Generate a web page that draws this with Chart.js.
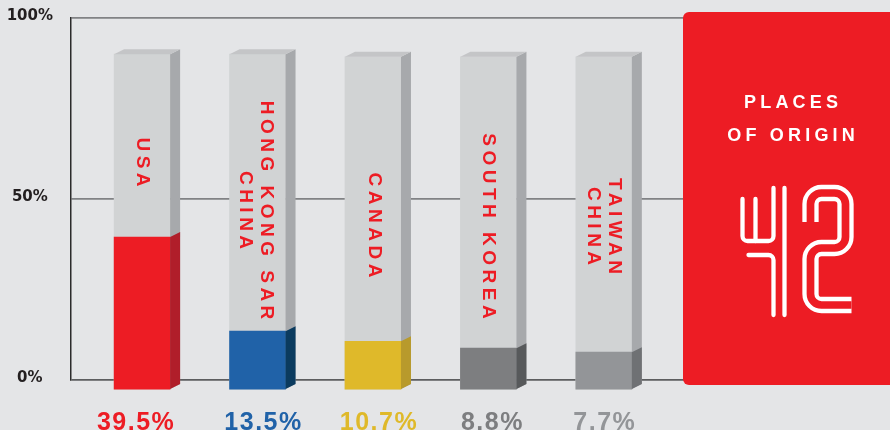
<!DOCTYPE html>
<html>
<head>
<meta charset="utf-8">
<script src="https://cdn.jsdelivr.net/npm/chart.js@4.4.1/dist/chart.umd.min.js"></script>
<style>
  html, body { margin: 0; padding: 0; background: #e4e5e7; }
  #wrap { width: 890px; height: 430px; }
</style>
</head>
<body>
<div id="wrap"><canvas id="originChart" width="890" height="430"></canvas></div>
<script>
// data
var categories = [['USA'], ['HONG KONG SAR', 'CHINA'], ['CANADA'], ['SOUTH KOREA'], ['TAIWAN', 'CHINA']];
var shares = [39.5, 13.5, 10.7, 8.8, 7.7];
var trackTop = [90, 90, 89.3, 89.3, 89.3];
var barBase = -2.5;
var yTicks = [0, 50, 100];
var panelTitle = ['PLACES', 'OF ORIGIN'];
var placesCount = 42;

// colours
var frontColors = ['#ed1c24', '#2062a8', '#dfb92a', '#7d7e80', '#939598'];
var sideColors = ['#b01e2a', '#0b3b5f', '#b89a2c', '#57595b', '#6f7174'];
var red = '#ed1c24';
var depthX = 10, depthY = 5;

var background = {
    id: 'background',
    beforeDraw: function (chart) {
        var ctx = chart.ctx;
        ctx.save();
        ctx.fillStyle = '#e4e5e7';
        ctx.fillRect(0, 0, chart.width, chart.height);
        ctx.restore();
    }
};

// side + top faces so the bars look like columns
var cube = {
    id: 'cube',
    afterDatasetDraw: function (chart, args) {
        var ds = chart.data.datasets[args.index];
        var ctx = chart.ctx;
        ctx.save();
        args.meta.data.forEach(function (bar, i) {
            var p = bar.getProps(['x', 'y', 'base', 'width'], true);
            var l = p.x - p.width / 2, r = p.x + p.width / 2;
            ctx.fillStyle = Array.isArray(ds.sideColor) ? ds.sideColor[i] : ds.sideColor;
            ctx.beginPath();
            ctx.moveTo(r, p.y);
            ctx.lineTo(r + depthX, p.y - depthY);
            ctx.lineTo(r + depthX, p.base - depthY);
            ctx.lineTo(r, p.base);
            ctx.closePath();
            ctx.fill();
            if (ds.topColor) {
                ctx.fillStyle = ds.topColor;
                ctx.beginPath();
                ctx.moveTo(l, p.y);
                ctx.lineTo(l + depthX, p.y - depthY);
                ctx.lineTo(r + depthX, p.y - depthY);
                ctx.lineTo(r, p.y);
                ctx.closePath();
                ctx.fill();
            }
        });
        ctx.restore();
    }
};

var barText = {
    id: 'barText',
    afterDatasetsDraw: function (chart, args, opts) {
        var ctx = chart.ctx;
        var bars = chart.getDatasetMeta(0).data;
        ctx.save();
        bars.forEach(function (bar, i) {
            // rotated country names
            var lines = categories[i];
            ctx.save();
            ctx.translate(bar.x + opts.shift[i], opts.mid[i]);
            ctx.rotate(Math.PI / 2);
            ctx.font = 'bold 19px "Liberation Sans", Arial, sans-serif';
            ctx.letterSpacing = '4.5px';
            ctx.fillStyle = red;
            ctx.textAlign = 'center';
            ctx.textBaseline = 'middle';
            lines.forEach(function (line, j) {
                ctx.fillText(line, 2.25, (j - (lines.length - 1) / 2) * 21);
            });
            ctx.restore();

            // share under each column
            ctx.font = 'bold 25px "Liberation Sans", Arial, sans-serif';
            ctx.letterSpacing = '1.5px';
            ctx.fillStyle = frontColors[i];
            ctx.textAlign = 'center';
            ctx.textBaseline = 'alphabetic';
            ctx.fillText(shares[i].toFixed(1) + '%', bar.x + opts.shareShift[i], 430);
        });
        ctx.restore();
    }
};

// line-art digits for the big number
var glyphs = {
    '4': { adv: 62, lines: [
        [[1, 12], [1, 54], [32, 54], [32, 1]],
        [[14, 12], [14, 54]],
        [[43, 1], [43, 128]],
        [[7, 68], [32, 68], [32, 128]]
    ], r: 5 },
    '2': { adv: 49, double: [[7, 35], [7, 6], [42, 6], [42, 61], [7, 61], [7, 118], [48, 118]], r: 11 }
};

function polyPath(ctx, pts, ox, oy, r) {
    ctx.beginPath();
    ctx.moveTo(ox + pts[0][0], oy + pts[0][1]);
    for (var k = 1; k < pts.length - 1; k++) {
        ctx.arcTo(ox + pts[k][0], oy + pts[k][1], ox + pts[k + 1][0], oy + pts[k + 1][1], r);
    }
    var last = pts[pts.length - 1];
    ctx.lineTo(ox + last[0], oy + last[1]);
}

var panel = {
    id: 'panel',
    afterDraw: function (chart) {
        var ctx = chart.ctx;
        ctx.save();
        ctx.fillStyle = red;
        ctx.beginPath();
        ctx.roundRect(683, 12, 230, 373, 6);
        ctx.fill();

        ctx.fillStyle = '#ffffff';
        ctx.font = 'bold 18px "Liberation Sans", Arial, sans-serif';
        ctx.letterSpacing = '4.2px';
        ctx.textAlign = 'center';
        ctx.textBaseline = 'middle';
        ctx.fillText(panelTitle[0], 791 + 2.1, 103);
        ctx.fillText(panelTitle[1], 791 + 2.1, 136);

        var digits = String(placesCount).split('');
        var total = digits.reduce(function (s, d) { return s + glyphs[d].adv; }, 0) - 13;
        var ox = 790.5 - total / 2, oy = 187;
        ctx.lineJoin = 'round';
        digits.forEach(function (d) {
            var g = glyphs[d];
            if (g.lines) {
                ctx.strokeStyle = '#ffffff';
                ctx.lineWidth = 4.3;
                ctx.lineCap = 'round';
                g.lines.forEach(function (pts) { polyPath(ctx, pts, ox, oy, g.r); ctx.stroke(); });
            }
            if (g.double) {
                ctx.lineCap = 'butt';
                polyPath(ctx, g.double, ox, oy, g.r);
                ctx.strokeStyle = '#ffffff';
                ctx.lineWidth = 16.3;
                ctx.stroke();
                ctx.strokeStyle = red;
                ctx.lineWidth = 7.7;
                ctx.stroke();
            }
            ox += g.adv;
        });
        ctx.restore();
    }
};

var ctx = document.getElementById('originChart').getContext('2d');
var originChart = new Chart(ctx, {
    type: 'bar',
    data: {
        datasets: [{
            label: 'Share',
            data: shares.map(function (v, i) { return { x: i, y: [barBase, v] }; }),
            backgroundColor: frontColors,
            sideColor: sideColors,
            barThickness: 56,
            grouped: false,
            clip: false
        }, {
            label: 'Track',
            data: trackTop.map(function (v, i) { return { x: i, y: [barBase, v] }; }),
            backgroundColor: '#d1d3d4',
            sideColor: '#a7a9ac',
            topColor: '#c4c5c7',
            barThickness: 56,
            grouped: false,
            clip: false
        }]
    },
    options: {
        responsive: false,
        animation: false,
        layout: { padding: { top: 18, bottom: 50, left: 0, right: 190 } },
        plugins: {
            legend: { display: false },
            tooltip: { enabled: false },
            barText: {
                mid: [162, 210, 225, 226, 226],
                shift: [0, -2, 1, 0, 0],
                shareShift: [-6, 6, 6, 4, 1]
            }
        },
        scales: {
            x: {
                type: 'linear',
                display: false,
                offset: false,
                min: -0.616,
                max: 4.833
            },
            y: {
                min: 0,
                max: 100,
                afterBuildTicks: function (scale) {
                    scale.ticks = yTicks.map(function (v) { return { value: v }; });
                },
                afterFit: function (scale) {
                    scale.width = 71;
                    scale.paddingTop = 0;
                    scale.paddingBottom = 0;
                },
                ticks: {
                    callback: function (v) { return v + '%'; },
                    font: { family: '"DejaVu Sans", sans-serif', weight: 'bold', size: 15 },
                    color: '#231f20',
                    padding: 18,
                    crossAlign: 'center',
                    labelOffset: -2
                },
                grid: {
                    color: function (c) { return c.tick && c.tick.value === 0 ? '#5c5d5f' : '#818285'; },
                    lineWidth: 1.8,
                    drawTicks: false
                },
                border: { display: true, color: '#2b2b2b', width: 1.5 }
            }
        }
    },
    plugins: [background, cube, barText, panel]
});
</script>
</body>
</html>
